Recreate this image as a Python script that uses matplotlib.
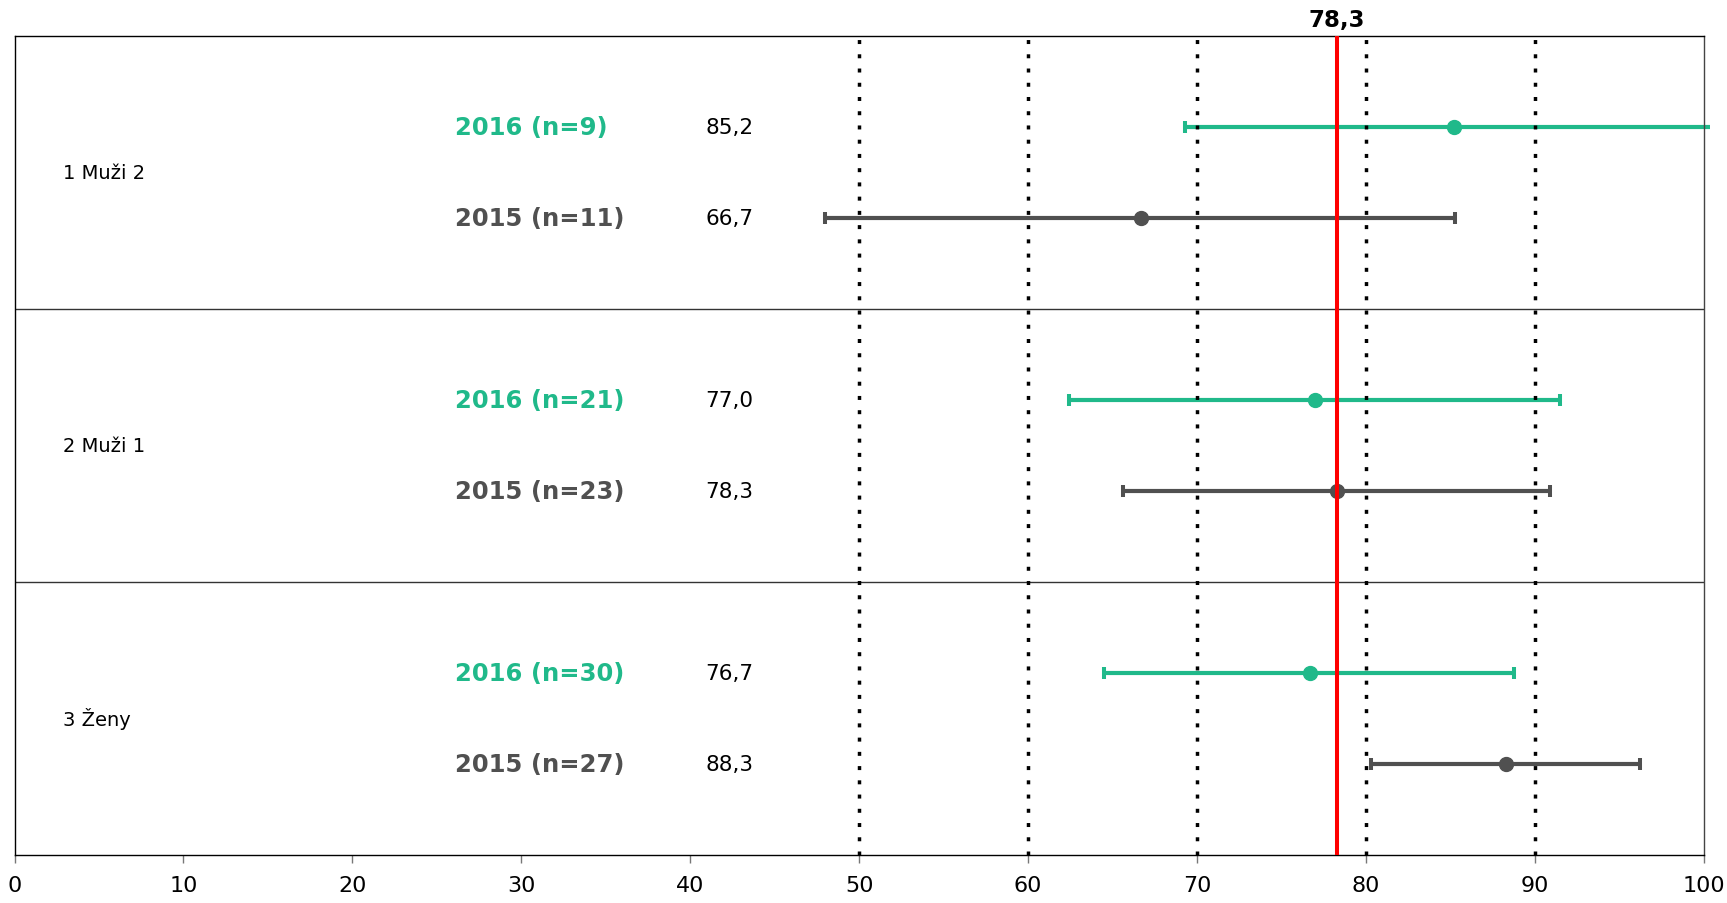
import matplotlib
matplotlib.use('Agg')
import matplotlib.pyplot as plt

# ---- data ----
groups = ['1 Muži 2', '2 Muži 1', '3 Ženy']
n_2016 = [9, 21, 30]
n_2015 = [11, 23, 27]
mean_2016 = [85.2, 77.0, 76.7]
low_2016 = [69.3, 62.4, 64.5]
high_2016 = [100.4, 91.5, 88.75]
mean_2015 = [66.7, 78.3, 88.3]
low_2015 = [48.0, 65.6, 80.3]
high_2015 = [85.3, 90.9, 96.2]
reference = 78.3
grid_x = [50, 60, 70, 80, 90]
xticks = [0, 10, 20, 30, 40, 50, 60, 70, 80, 90, 100]

GREEN = '#20B98A'
GREY = '#505050'
RED = '#FF0000'

plt.rcParams['font.family'] = ['DejaVu Sans']

fig = plt.figure(figsize=(17.27, 9.04), dpi=100)
ax = fig.add_axes([14.5 / 1727, (904 - 855.7) / 904, 1689.2 / 1727, 818.3 / 904])
ax.set_xlim(0, 100)
ax.set_ylim(3, 0)


def fmt(v):
    return f'{v:.1f}'.replace('.', ',')


def draw_row(y, lo, hi, m, color):
    ax.plot([lo, min(hi, 100.4)], [y, y], color=color, lw=3, solid_capstyle='butt',
            clip_on=False, zorder=2)
    for e in (lo, hi):
        if e <= 100:
            ax.plot([e], [y], marker='|', ms=8.6, mew=2.9, color=color, zorder=2)
    ax.plot([m], [y], marker='o', ms=10, color=color, mec=color, zorder=2.5)


for i, g in enumerate(groups):
    y16 = i + 1 / 3
    y15 = i + 2 / 3
    draw_row(y16, low_2016[i], high_2016[i], mean_2016[i], GREEN)
    draw_row(y15, low_2015[i], high_2015[i], mean_2015[i], GREY)
    ax.text(26.1, y16, f'2016 (n={n_2016[i]})', color=GREEN, fontsize=17.5,
            fontweight='bold', va='center', ha='left')
    ax.text(26.1, y15, f'2015 (n={n_2015[i]})', color=GREY, fontsize=17.5,
            fontweight='bold', va='center', ha='left')
    ax.text(40.9, y16, fmt(mean_2016[i]), color='black', fontsize=15.5, va='center', ha='left')
    ax.text(40.9, y15, fmt(mean_2015[i]), color='black', fontsize=15.5, va='center', ha='left')
    ax.text(2.9, i + 0.5, g, color='black', fontsize=14, va='center', ha='left')

for sep in [1, 2]:
    ax.axhline(sep, color='#333333', lw=1.0, zorder=1)

for gx in grid_x:
    ax.axvline(gx, color='black', lw=2.5, linestyle=(0, (1.15, 2.95)), zorder=3)

ax.axvline(reference, color=RED, lw=2.9, zorder=4)
ax.annotate(fmt(reference), xy=(reference, 0), xytext=(0, 4), textcoords='offset points',
            ha='center', va='bottom', fontsize=16.5, fontweight='bold', annotation_clip=False)

ax.set_xticks(xticks)
ax.set_xticklabels([str(t) for t in xticks], fontsize=16)
ax.tick_params(axis='x', length=5.5, width=1, color='#777777', pad=9)
ax.set_yticks([])
for s in ax.spines.values():
    s.set_color('black')
    s.set_linewidth(1.0)
ax.spines['right'].set_color('#444444')

fig.savefig('out.png', dpi=100)
